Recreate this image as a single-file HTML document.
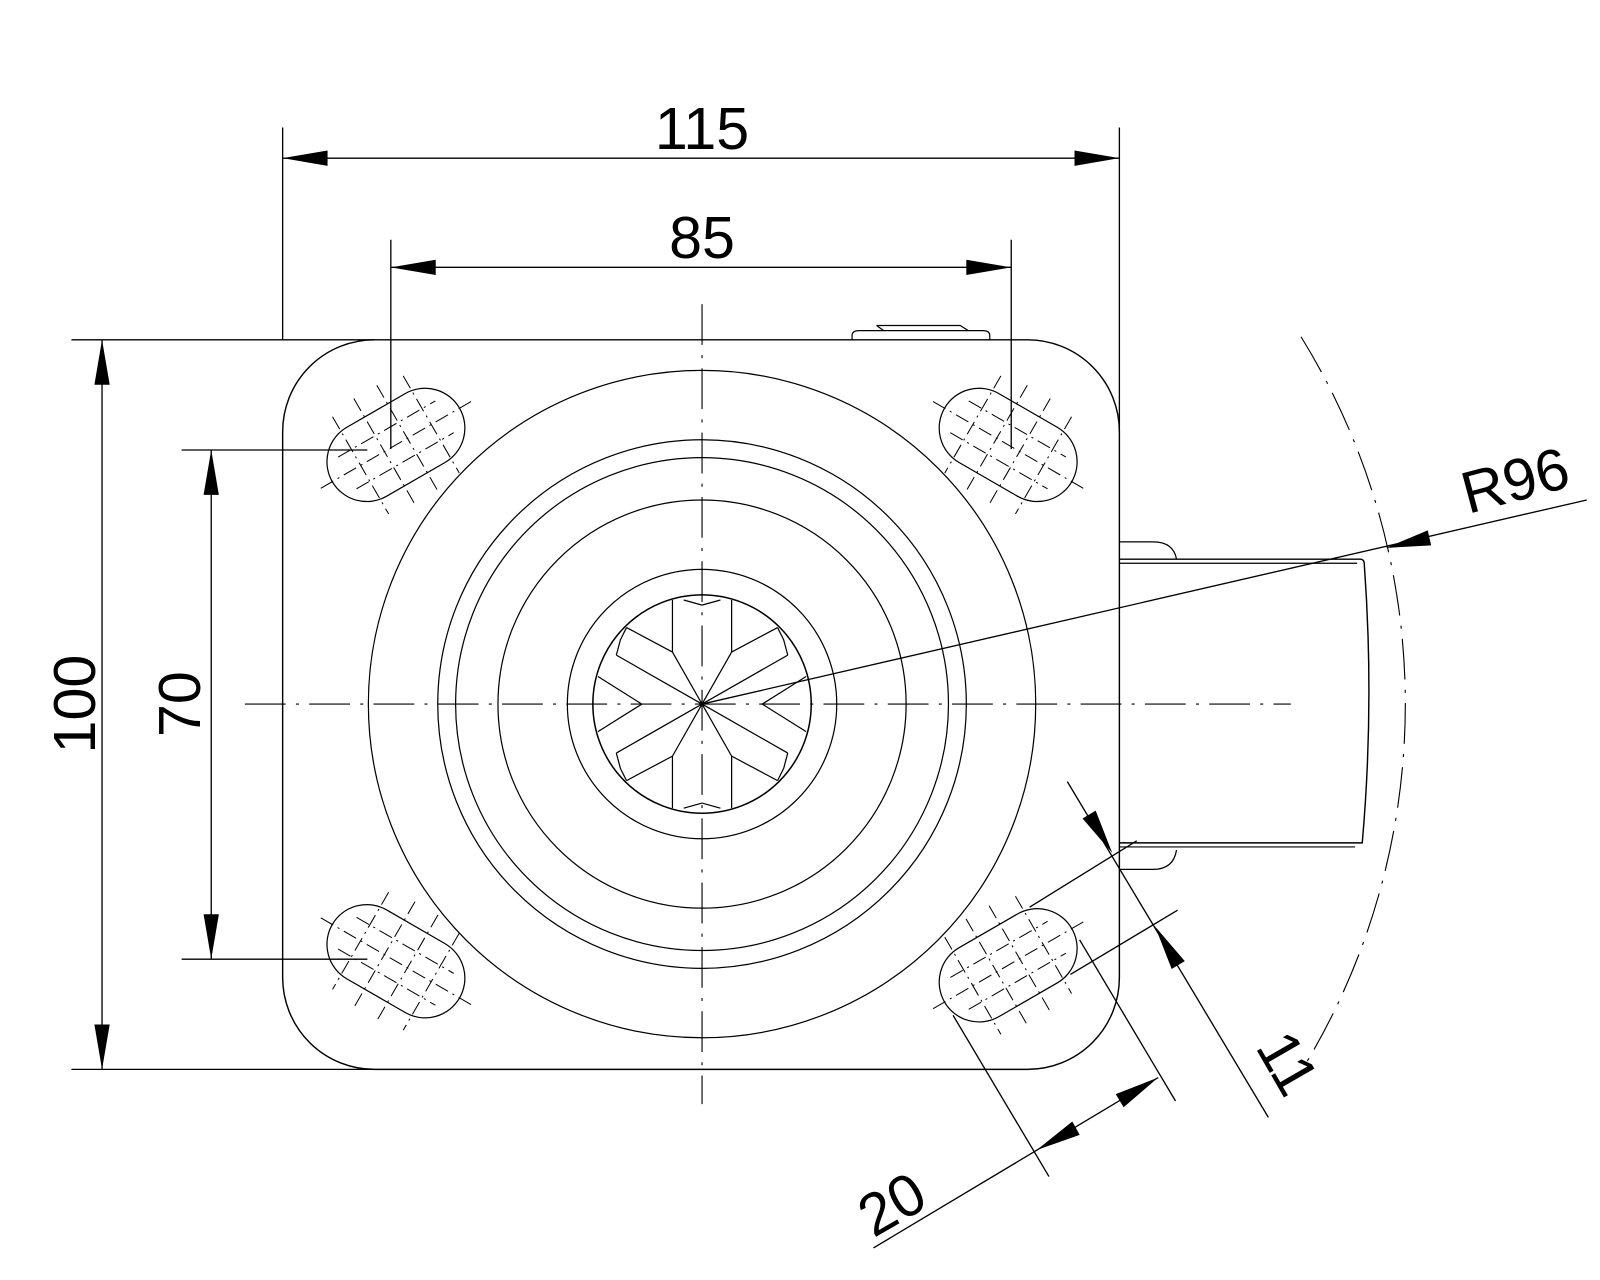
<!DOCTYPE html>
<html><head><meta charset="utf-8"><style>html,body{margin:0;padding:0;background:#fff}svg{display:block}</style></head>
<body>
<svg width="1600" height="1280" viewBox="0 0 1568 1254.4" xmlns="http://www.w3.org/2000/svg" font-family="Liberation Sans, sans-serif">
<defs>
<path id="ah" d="M0 0 L-44 -7.5 L-44 7.5 Z" fill="#000"/>
<g id="slot">
<path d="M -33,-39 L 33,-39 A 39 39 0 0 1 33 39 L -33 39 A 39 39 0 0 1 -33 -39 Z" fill="none" stroke="#000" stroke-width="1.2"/>
<g stroke="#000" stroke-width="1" fill="none" stroke-dasharray="14 5 2 5">
<line x1="-85" y1="0" x2="85" y2="0"/>
<line x1="-55" y1="-18" x2="55" y2="-18"/>
<line x1="-55" y1="18" x2="55" y2="18"/>
<line x1="-40" y1="-55" x2="-40" y2="55"/>
<line x1="-13" y1="-60" x2="-13" y2="60"/>
<line x1="13" y1="-60" x2="13" y2="60"/>
<line x1="40" y1="-55" x2="40" y2="55"/>
</g>
</g>
<g id="q" stroke="#000" stroke-width="1.2" fill="none">
<polyline points="-29,-102 -29,-51 0,0"/>
<line x1="-29" y1="-51" x2="-74" y2="-75"/>
<line x1="-84" y1="-48" x2="0" y2="0"/>
<polyline points="-102,-27 -59,0"/>
<polyline points="-84,-48 -80,-63 -74,-75"/>
<polyline points="-18,-102 0,-97"/>
</g>
</defs>

<g fill="none" stroke="#000" stroke-width="1.2">
<path d="M367 333 L1007 333 A90 90 0 0 1 1097 423 L1097 958 A90 90 0 0 1 1007 1048 L367 1048 A90 90 0 0 1 277 958 L277 423 A90 90 0 0 1 367 333 Z" stroke-width="1.4"/>
<path d="M835 333 L835 329 Q835 324 842 324 L963 324 Q970 324 970 329 L970 333"/>
<path d="M859 319 L941 319 L949 324 M859 319 L866 324"/>
<circle cx="688" cy="690" r="327"/>
<circle cx="688" cy="690" r="259"/>
<circle cx="688" cy="690" r="241.5"/>
<circle cx="688" cy="690" r="200"/>
<circle cx="688" cy="690" r="132"/>
<circle cx="688" cy="690" r="107" stroke-width="1.5"/>
<path d="M1097 548 L1333 548 Q1337 548 1337 553 Q1347 690 1335 826 L1097 826" stroke-width="1.4"/>
<path d="M1097 552 L1330 552 M1097 830 L1328 830"/>
<path d="M1097 531 L1130 531 Q1150 531 1153 548"/>
<path d="M1097 852 L1130 852 Q1150 852 1153 833"/>
</g>

<g transform="translate(688,690)">
<use href="#q"/>
<use href="#q" transform="scale(-1,1)"/>
<use href="#q" transform="scale(1,-1)"/>
<use href="#q" transform="scale(-1,-1)"/>
</g>

<use href="#slot" transform="translate(388,436) rotate(-30)"/>
<use href="#slot" transform="translate(988,436) rotate(30)"/>
<use href="#slot" transform="translate(388,942) rotate(30)"/>
<use href="#slot" transform="translate(988,946) rotate(-30)"/>

<g stroke="#000" stroke-width="1.1" stroke-dasharray="40 10 3 10" fill="none">
<line x1="240" y1="690" x2="1265" y2="690"/>
<line x1="688" y1="298" x2="688" y2="1082"/>
<path d="M1275 330 A685 685 0 0 1 1275 1050"/>
</g>

<g stroke="#000" stroke-width="1.3" fill="none">
<line x1="277" y1="125" x2="277" y2="333"/>
<line x1="1097" y1="125" x2="1097" y2="423"/>
<line x1="277" y1="155" x2="1097" y2="155"/>
<line x1="383" y1="235" x2="383" y2="440"/>
<line x1="991" y1="235" x2="991" y2="440"/>
<line x1="383" y1="262" x2="991" y2="262"/>
<line x1="70" y1="333" x2="367" y2="333"/>
<line x1="70" y1="1048" x2="367" y2="1048"/>
<line x1="100" y1="333" x2="100" y2="1048"/>
<line x1="178" y1="441" x2="360" y2="441"/>
<line x1="178" y1="940" x2="360" y2="940"/>
<line x1="207" y1="441" x2="207" y2="940"/>
<line x1="688" y1="690" x2="1555" y2="490"/>
<line x1="1046" y1="766" x2="1243" y2="1095"/>
<line x1="1009" y1="889" x2="1114" y2="824"/>
<line x1="1049" y1="955" x2="1154" y2="892"/>
<line x1="934" y1="995" x2="1028" y2="1153"/>
<line x1="1058" y1="921" x2="1152" y2="1079"/>
<line x1="856" y1="1223" x2="1135" y2="1056"/>
</g>

<use href="#ah" transform="translate(277,155) rotate(180)"/>
<use href="#ah" transform="translate(1097,155)"/>
<use href="#ah" transform="translate(383,262) rotate(180)"/>
<use href="#ah" transform="translate(991,262)"/>
<use href="#ah" transform="translate(100,333) rotate(-90)"/>
<use href="#ah" transform="translate(100,1048) rotate(90)"/>
<use href="#ah" transform="translate(207,441) rotate(-90)"/>
<use href="#ah" transform="translate(207,940) rotate(90)"/>
<use href="#ah" transform="translate(1358,537) rotate(167)"/>
<use href="#ah" transform="translate(1090,836) rotate(59)"/>
<use href="#ah" transform="translate(1132,908) rotate(239)"/>
<use href="#ah" transform="translate(1016,1127) rotate(151)"/>
<use href="#ah" transform="translate(1135,1056) rotate(-31)"/>

<g font-size="58" fill="#000" text-anchor="middle">
<text x="688" y="146">115</text>
<text x="688" y="253">85</text>
<text transform="translate(93,690) rotate(-90)">100</text>
<text transform="translate(196,690) rotate(-90)">70</text>
<text transform="translate(1490,490) rotate(-15)">R96</text>
<text transform="translate(1262,1042) rotate(60) translate(0,20)">11</text>
<text transform="translate(874,1180) rotate(-30) translate(0,20)">20</text>
</g>
</svg>
</body></html>
